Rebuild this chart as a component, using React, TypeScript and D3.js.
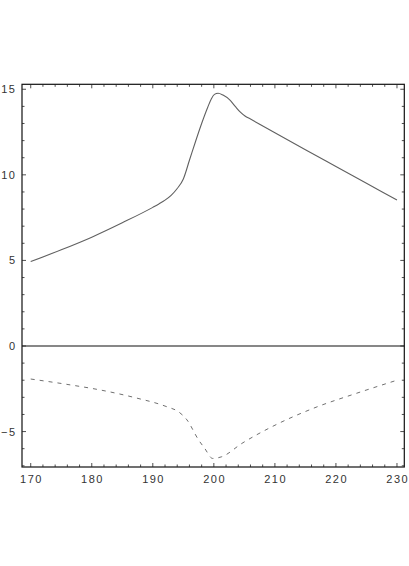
import React, { useEffect, useRef } from 'react';
import * as d3 from 'd3';

// solid curve (upper)
const upperX = [170, 175, 180, 185, 190, 191, 192, 193, 194, 195, 196, 197, 198, 199, 199.6, 200.1, 200.7, 201.5, 202.6, 203.5, 204.3, 205.1, 206, 210, 215, 220, 225, 230];
const upperY = [4.93, 5.62, 6.36, 7.2, 8.1, 8.3, 8.52, 8.8, 9.2, 9.76, 10.85, 11.95, 13.0, 13.95, 14.45, 14.7, 14.77, 14.66, 14.38, 14.0, 13.68, 13.44, 13.26, 12.46, 11.47, 10.49, 9.51, 8.53];

// dashed curve (lower)
const lowerX = [170, 175.9, 181.4, 187.1, 192.3, 194.2, 195.6, 197.5, 198.5, 199.8, 201.3, 204.6, 209.5, 216.3, 223.4, 230];
const lowerY = [-1.93, -2.24, -2.57, -3.02, -3.55, -3.84, -4.32, -5.49, -5.98, -6.57, -6.47, -5.69, -4.72, -3.64, -2.76, -2.0];

const xTicks = [170, 180, 190, 200, 210, 220, 230];
const yTicks = [-5, 0, 5, 10, 15];
const xMinor = d3.range(170, 232, 2);
const yMinor = d3.range(-7, 16, 1);

const Chart = () => {
  const svgRef = useRef<SVGSVGElement>(null);

  useEffect(() => {
    const width = 409;
    const height = 566;
    const left = 22, right = 404.3, top = 84.3, bottom = 467;

    const svg = d3.select(svgRef.current).attr('width', width).attr('height', height);
    svg.selectAll('*').remove();

    const x = d3.scaleLinear().domain([168.57, 231.2]).range([left, right]);
    const y = d3.scaleLinear().domain([-7.07, 15.29]).range([bottom, top]);

    const line = d3.line<[number, number]>()
      .x(d => x(d[0]))
      .y(d => y(d[1]))
      .curve(d3.curveMonotoneX);

    svg.append('path')
      .datum(upperX.map((v, i) => [v, upperY[i]] as [number, number]))
      .attr('d', line)
      .attr('fill', 'none')
      .attr('stroke', '#606060')
      .attr('stroke-width', 1.1);

    svg.append('path')
      .datum(lowerX.map((v, i) => [v, lowerY[i]] as [number, number]))
      .attr('d', line)
      .attr('fill', 'none')
      .attr('stroke', '#707070')
      .attr('stroke-width', 1)
      .attr('stroke-dasharray', '4,5');

    // zero line
    svg.append('line')
      .attr('x1', left).attr('x2', right)
      .attr('y1', y(0)).attr('y2', y(0))
      .attr('stroke', '#111').attr('stroke-width', 1.2);

    // frame
    svg.append('rect')
      .attr('x', left).attr('y', top)
      .attr('width', right - left).attr('height', bottom - top)
      .attr('fill', 'none').attr('stroke', '#111').attr('stroke-width', 1.2);

    const tickG = svg.append('g').attr('stroke', '#222').attr('stroke-width', 0.8);

    // x ticks, bottom and top, pointing in
    xMinor.forEach(v => {
      const len = xTicks.includes(v) ? 4 : 2.5;
      tickG.append('line').attr('x1', x(v)).attr('x2', x(v)).attr('y1', bottom).attr('y2', bottom - len);
      tickG.append('line').attr('x1', x(v)).attr('x2', x(v)).attr('y1', top).attr('y2', top + len);
    });

    // y ticks, left and right, pointing in
    yMinor.forEach(v => {
      const len = yTicks.includes(v) ? 4 : 2.5;
      tickG.append('line').attr('y1', y(v)).attr('y2', y(v)).attr('x1', left).attr('x2', left + len);
      tickG.append('line').attr('y1', y(v)).attr('y2', y(v)).attr('x1', right).attr('x2', right - len);
    });

    const font = "'Liberation Sans', Arial, sans-serif";

    svg.append('g')
      .selectAll('text')
      .data(xTicks)
      .enter()
      .append('text')
      .attr('x', d => x(d) + 0.75)
      .attr('y', bottom + 16)
      .attr('text-anchor', 'middle')
      .attr('font-family', font)
      .attr('font-size', 11)
      .attr('letter-spacing', 1.5)
      .attr('fill', '#333')
      .text(d => String(d));

    svg.append('g')
      .selectAll('text')
      .data(yTicks)
      .enter()
      .append('text')
      .attr('x', 16.5)
      .attr('y', d => y(d) + 4)
      .attr('text-anchor', 'end')
      .attr('font-family', font)
      .attr('font-size', 11)
      .attr('letter-spacing', 1.5)
      .attr('fill', '#333')
      .text(d => (d < 0 ? '\u2212' + Math.abs(d) : String(d)));
  }, []);

  return <svg ref={svgRef} style={{ position: 'absolute', left: 0, top: 0, background: '#fff' }}></svg>;
};

export default function App() {
  return <Chart />;
}
